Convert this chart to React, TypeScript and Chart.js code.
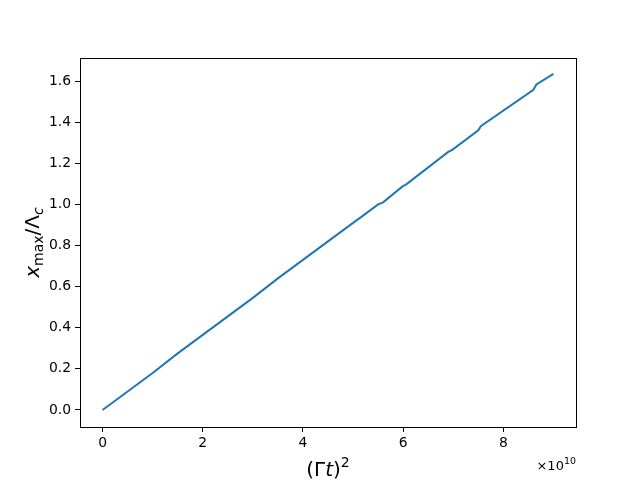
import React, { useEffect, useRef } from "react";
import { Chart, registerables } from "chart.js";

Chart.register(...registerables);

// (Γt)^2 in units of 1e10
const xValues = [0, 0.5, 1, 1.5, 2, 2.5, 3, 3.5, 4, 4.5, 5, 5.2, 5.5, 5.6, 6.0, 6.05, 6.9, 6.98, 7.5, 7.55, 8.6, 8.66, 9.0];
// x_max / Λ_c
const yValues = [0, 0.09, 0.18, 0.275, 0.365, 0.455, 0.545, 0.64, 0.73, 0.82, 0.91, 0.945, 1.0, 1.01, 1.09, 1.095, 1.255, 1.265, 1.36, 1.38, 1.557, 1.583, 1.635];
const xTicks = [0, 2, 4, 6, 8];
const yTicks = [0, 0.2, 0.4, 0.6, 0.8, 1.0, 1.2, 1.4, 1.6];
const xScaleFactor = 1e10;

const FONT = "'DejaVu Sans', sans-serif";

type Run = { text: string; size: number; italic?: boolean; dy?: number };

function drawRuns(ctx: CanvasRenderingContext2D, runs: Run[], cx: number, cy: number, align: "center" | "left" | "right") {
  const widths = runs.map((r) => {
    ctx.font = `${r.italic ? "italic " : ""}${r.size}px ${FONT}`;
    return ctx.measureText(r.text).width;
  });
  const total = widths.reduce((a, b) => a + b, 0);
  let x = align === "center" ? cx - total / 2 : align === "right" ? cx - total : cx;
  ctx.textBaseline = "alphabetic";
  ctx.textAlign = "left";
  runs.forEach((r, i) => {
    ctx.font = `${r.italic ? "italic " : ""}${r.size}px ${FONT}`;
    ctx.fillText(r.text, x, cy + (r.dy || 0));
    x += widths[i];
  });
}

const decorPlugin = {
  id: "decor",
  afterDraw(chart: any) {
    const ctx: CanvasRenderingContext2D = chart.ctx;
    const a = chart.chartArea;
    ctx.save();
    ctx.strokeStyle = "#000";
    ctx.lineWidth = 1;
    ctx.strokeRect(Math.round(a.left) + 0.5, Math.round(a.top) + 0.5, Math.round(a.right - a.left), Math.round(a.bottom - a.top));
    ctx.fillStyle = "#000";
    // x title: (Γt)^2
    drawRuns(
      ctx,
      [
        { text: "(Γ", size: 20 },
        { text: "t", size: 20, italic: true },
        { text: ")", size: 20 },
        { text: "2", size: 14, dy: -9 },
      ],
      (a.left + a.right) / 2,
      476,
      "center"
    );
    // offset text ×10^10
    drawRuns(
      ctx,
      [
        { text: "×10", size: 13 },
        { text: "10", size: 9.5, dy: -6 },
      ],
      a.right,
      470,
      "right"
    );
    // y title: x_max / Λ_c (rotated)
    ctx.translate(39, (a.top + a.bottom) / 2);
    ctx.rotate(-Math.PI / 2);
    drawRuns(
      ctx,
      [
        { text: "x", size: 20, italic: true },
        { text: "max", size: 14, dy: 4 },
        { text: "/Λ", size: 20 },
        { text: "c", size: 14, italic: true, dy: 4 },
      ],
      0,
      0,
      "center"
    );
    ctx.restore();
  },
};

export default function App() {
  const ref = useRef<HTMLCanvasElement | null>(null);
  useEffect(() => {
    if (!ref.current) return;
    const chart = new Chart(ref.current, {
      type: "line",
      data: {
        datasets: [
          {
            data: xValues.map((x, i) => ({ x: x * xScaleFactor, y: yValues[i] })),
            borderColor: "#1f77b4",
            borderWidth: 2,
            pointRadius: 0,
            tension: 0,
            fill: false,
          },
        ],
      },
      options: {
        responsive: false,
        animation: false,
        layout: { padding: { left: 0, right: 64, top: 58, bottom: 0 } },
        plugins: { legend: { display: false }, tooltip: { enabled: false } },
        scales: {
          x: {
            type: "linear",
            min: -0.45e10,
            max: 9.45e10,
            afterFit: (s: any) => {
              s.height = 53;
            },
            afterBuildTicks: (s: any) => {
              s.ticks = xTicks.map((v) => ({ value: v * xScaleFactor }));
            },
            grid: { drawOnChartArea: false, drawTicks: true, tickLength: 5, color: "#000" },
            border: { display: false },
            ticks: {
              color: "#000",
              font: { family: FONT, size: 13.9 },
              padding: 3,
              maxRotation: 0,
              callback: (v: any) => String(Math.round(Number(v) / xScaleFactor)),
            },
          },
          y: {
            type: "linear",
            min: -0.083,
            max: 1.712,
            afterFit: (s: any) => {
              s.width = 80;
            },
            afterBuildTicks: (s: any) => {
              s.ticks = yTicks.map((v) => ({ value: v }));
            },
            grid: { drawOnChartArea: false, drawTicks: true, tickLength: 5, color: "#000" },
            border: { display: false },
            ticks: {
              color: "#000",
              font: { family: FONT, size: 13.9 },
              padding: 4,
              callback: (v: any) => Number(v).toFixed(1),
            },
          },
        },
      },
      plugins: [decorPlugin],
    });
    return () => chart.destroy();
  }, []);
  return (
    <div style={{ position: "fixed", left: 0, top: 0, width: 640, height: 480, background: "#fff" }}>
      <canvas ref={ref} width={640} height={480} style={{ width: 640, height: 480 }} />
    </div>
  );
}
